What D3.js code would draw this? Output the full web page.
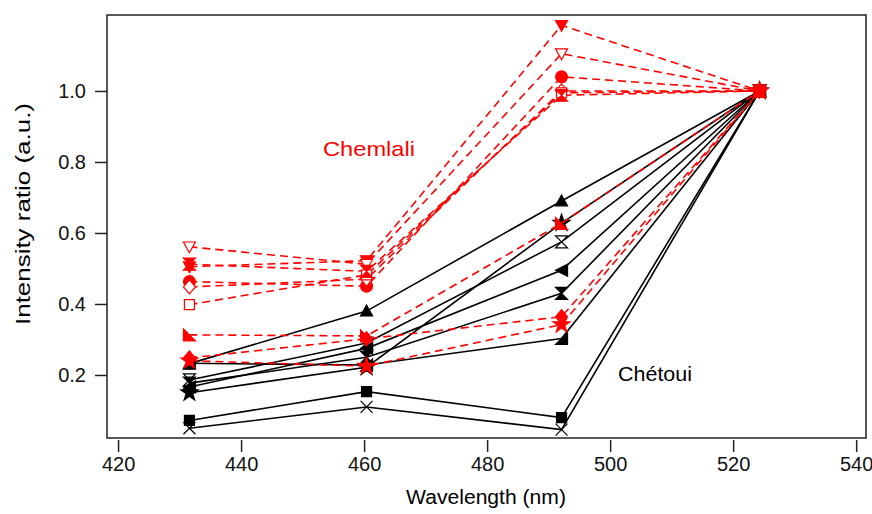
<!DOCTYPE html>
<html>
<head>
<meta charset="utf-8">
<script src="https://cdn.jsdelivr.net/npm/d3@7"></script>
<style>
  body { margin: 0; background: #fff; }
  text { font-family: "Liberation Sans", Arial, sans-serif; }
</style>
</head>
<body>
<div id="chart"></div>
<script>
// wavelengths of the four measurement bands (nm)
var wavelengths = [431.6, 460.4, 492.1, 524.3];

// Chemlali samples (red, dashed)
var chemlaliValues = [
  [0.505, 0.522, 1.185, 1.0],
  [0.561, 0.512, 1.105, 1.0],
  [0.463, 0.450, 1.040, 1.0],
  [0.448, 0.470, 1.000, 1.0],
  [0.398, 0.482, 0.995, 1.0],
  [0.512, 0.492, 0.988, 1.0],
  [0.313, 0.310, 0.627, 1.0],
  [0.248, 0.302, 0.364, 1.0],
  [0.240, 0.225, 0.342, 1.0]
];
var chemlaliMarkers = ["triDownF", "triDownO", "circleF", "diamondO", "squareO", "hourglassF", "halfTriL", "diamondF", "starF"];

// Chétoui samples (black, solid)
var chetouiValues = [
  [0.232, 0.380, 0.690, 1.0],
  [0.150, 0.222, 0.628, 1.0],
  [0.186, 0.290, 0.575, 1.0],
  [0.166, 0.275, 0.495, 1.0],
  [0.177, 0.250, 0.430, 1.0],
  [0.233, 0.228, 0.303, 1.0],
  [0.072, 0.153, 0.080, 1.0],
  [0.050, 0.110, 0.046, 1.0]
];
var chetouiMarkers = ["triUpF", "starF", "hourglassO", "triLeftF", "hourglassF", "halfTriR", "squareF", "cross"];

var xTicks = [420, 440, 460, 480, 500, 520, 540];
var yTicks = [0.2, 0.4, 0.6, 0.8, 1.0];

var width = 872, height = 514;
var margin = {top: 15, right: 6, bottom: 76, left: 107};

var svg = d3.select("#chart").append("svg")
    .attr("width", width)
    .attr("height", height);

var x = d3.scaleLinear().domain([418.2, 541.6]).range([margin.left, width - margin.right]);
var y = d3.scaleLinear().domain([0.0225, 1.214]).range([height - margin.bottom, margin.top]);

// frame
svg.append("rect")
    .attr("x", margin.left).attr("y", margin.top)
    .attr("width", width - margin.right - margin.left)
    .attr("height", height - margin.bottom - margin.top)
    .attr("fill", "none").attr("stroke", "#222").attr("stroke-width", 1.5);

// axes
var xAxis = svg.append("g")
    .attr("transform", "translate(0," + (height - margin.bottom + 2) + ")")
    .call(d3.axisBottom(x).tickValues(xTicks).tickSize(12).tickPadding(5).tickFormat(d3.format("d")));
xAxis.select(".domain").remove();

var yAxis = svg.append("g")
    .attr("transform", "translate(" + margin.left + ",0)")
    .call(d3.axisLeft(y).tickValues(yTicks).tickSize(12).tickPadding(9).tickFormat(d3.format(".1f")));
yAxis.select(".domain").remove();

svg.selectAll(".tick line").attr("stroke", "#222").attr("stroke-width", 1.5);
svg.selectAll(".tick text").attr("font-size", 20).attr("fill", "#111")
    .style("font-family", "'Liberation Sans', Arial, sans-serif");

svg.append("text")
    .attr("x", 486)
    .attr("y", 504)
    .attr("text-anchor", "middle")
    .attr("font-size", 20)
    .attr("textLength", 160)
    .attr("lengthAdjust", "spacingAndGlyphs")
    .text("Wavelength (nm)");

svg.append("text")
    .attr("transform", "translate(30,214) rotate(-90)")
    .attr("text-anchor", "middle")
    .attr("font-size", 20)
    .attr("textLength", 222)
    .attr("lengthAdjust", "spacingAndGlyphs")
    .text("Intensity ratio (a.u.)");

// marker shapes
function markerPath(name) {
  var r = 6;
  var kind = name.replace(/[FO]$/, "");
  switch (kind) {
    case "triUp": return "M0," + (-r) + "L" + r + "," + (r * 0.8) + "L" + (-r) + "," + (r * 0.8) + "Z";
    case "triDown": return "M0," + r + "L" + r + "," + (-r * 0.8) + "L" + (-r) + "," + (-r * 0.8) + "Z";
    case "triLeft": return "M" + (-r) + ",0L" + r + "," + (-r) + "L" + r + "," + r + "Z";
    case "circle": return d3.symbol(d3.symbolCircle, 110)();
    case "diamond": return "M0," + (-r - 1) + "L" + (r) + ",0L0," + (r + 1) + "L" + (-r) + ",0Z";
    case "square": return "M" + (-r + 1) + "," + (-r + 1) + "H" + (r - 1) + "V" + (r - 1) + "H" + (-r + 1) + "Z";
    case "hourglass": return "M" + (-r) + "," + (-r) + "L" + r + "," + (-r) + "L" + (-r) + "," + r + "L" + r + "," + r + "Z";
    case "halfTriL": return "M" + (-r) + "," + (-r) + "L" + (-r) + "," + r + "L" + r + "," + r + "Z";
    case "halfTriR": return "M" + r + "," + (-r) + "L" + r + "," + r + "L" + (-r) + "," + r + "Z";
    case "star": return d3.symbol(d3.symbolStar, 90)();
    case "cross": return "M" + (-r) + "," + (-r) + "L" + r + "," + r + "M" + r + "," + (-r) + "L" + (-r) + "," + r;
  }
  return d3.symbol(d3.symbolCircle, 60)();
}

var line = d3.line()
    .x(function(d, i) { return x(wavelengths[i]); })
    .y(function(d) { return y(d); });

function drawGroup(values, markers, color, dash) {
  var g = svg.append("g");
  g.selectAll("path.series")
    .data(values)
    .enter().append("path")
    .attr("class", "series")
    .attr("d", line)
    .attr("fill", "none")
    .attr("stroke", color)
    .attr("stroke-width", 1.6)
    .attr("stroke-dasharray", dash);

  values.forEach(function(vals, s) {
    var m = markers[s];
    var filled = /F$/.test(m) || m === "halfTriL" || m === "halfTriR";
    g.selectAll(null)
      .data(vals)
      .enter().append("path")
      .attr("transform", function(d, i) { return "translate(" + x(wavelengths[i]) + "," + y(d) + ")"; })
      .attr("d", markerPath(m))
      .attr("fill", m === "cross" ? "none" : (filled ? color : "#fff"))
      .attr("stroke", color)
      .attr("stroke-width", 1.2);
  });
}

drawGroup(chetouiValues, chetouiMarkers, "#000", null);
drawGroup(chemlaliValues, chemlaliMarkers, "#ff0000", "8,5");

svg.append("text")
    .attr("x", 369).attr("y", 156)
    .attr("text-anchor", "middle")
    .attr("font-size", 21)
    .attr("textLength", 92)
    .attr("lengthAdjust", "spacingAndGlyphs")
    .attr("fill", "#ff0000")
    .text("Chemlali");

svg.append("text")
    .attr("x", 655).attr("y", 381)
    .attr("text-anchor", "middle")
    .attr("font-size", 21)
    .attr("textLength", 74)
    .attr("lengthAdjust", "spacingAndGlyphs")
    .attr("fill", "#000")
    .text("Chétoui");
</script>
</body>
</html>
